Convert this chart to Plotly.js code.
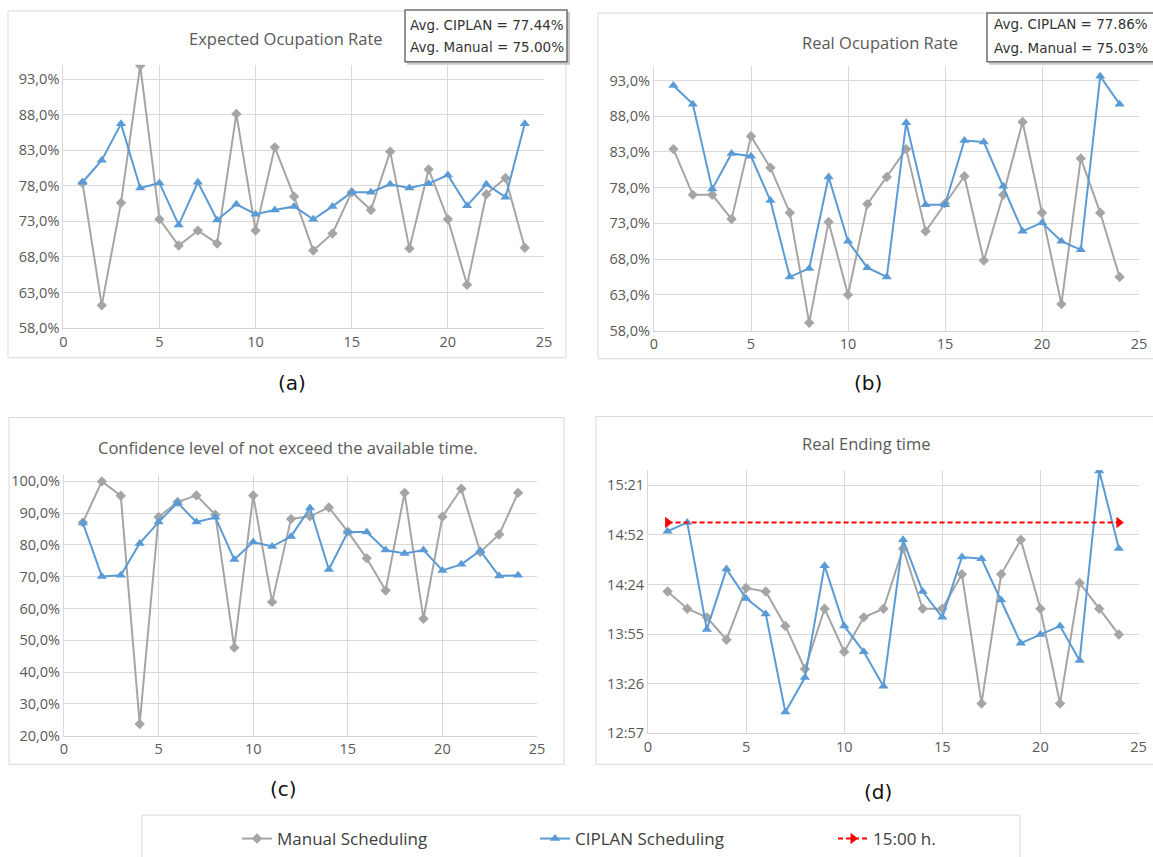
<!DOCTYPE html>
<html>
<head>
<meta charset="utf-8">
<script src="https://cdn.plot.ly/plotly-3.0.1.min.js"></script>
<style>html,body{margin:0;padding:0;background:#fff;}#chart{width:1153px;height:857px;}</style>
</head>
<body>
<div id="chart"></div>
<script>
// ---------- data ----------
const scenarios = [1,2,3,4,5,6,7,8,9,10,11,12,13,14,15,16,17,18,19,20,21,22,23,24];

const expectedManual = [78.4,61.2,75.6,94.9,73.3,69.6,71.7,69.9,88.1,71.7,83.4,76.5,68.9,71.3,77.1,74.6,82.8,69.2,80.3,73.3,64.1,76.8,79.1,69.3];
const expectedCiplan = [78.5,81.6,86.7,77.7,78.4,72.5,78.5,73.2,75.4,74.0,74.6,75.1,73.3,75.1,77.1,77.1,78.2,77.7,78.3,79.5,75.2,78.2,76.4,86.7];

const realManual = [83.4,77.0,77.0,73.6,85.2,80.8,74.5,59.1,73.2,63.0,75.7,79.5,83.4,71.9,75.8,79.6,67.8,77.0,87.2,74.5,61.7,82.1,74.5,65.5];
const realCiplan = [92.3,89.7,77.8,82.8,82.4,76.2,65.5,66.7,79.5,70.5,66.8,65.5,87.1,75.6,75.6,84.6,84.4,78.2,71.9,73.1,70.5,69.3,93.6,89.7];

const confManual = [87.1,100.0,95.5,23.7,88.8,93.5,95.6,89.5,47.7,95.6,62.1,88.2,89.0,91.8,84.2,75.8,65.7,96.4,56.8,88.9,97.7,77.8,83.3,96.4];
const confCiplan = [86.9,70.1,70.5,80.5,87.2,93.3,87.2,88.7,75.4,80.9,79.5,82.7,91.6,72.3,84.1,84.1,78.4,77.3,78.4,72.0,73.9,78.2,70.2,70.5];

const endManual = ["14:20","14:10","14:05","13:52","14:22","14:20","14:00","13:35","14:10","13:45","14:05","14:10","14:45","14:10","14:10","14:30","13:15","14:30","14:50","14:10","13:15","14:25","14:10","13:55"];
const endCiplan = ["14:55","15:00","13:58","14:33","14:16","14:07","13:10","13:30","14:35","14:00","13:45","13:25","14:50","14:20","14:05","14:40","14:39","14:15","13:50","13:55","14:00","13:40","15:30","14:45"];

const limitX = [1, 24];
const limitTime = ["15:00","15:00"];

const pctTickVals = [58,63,68,73,78,83,88,93];
const confTickVals = [20,30,40,50,60,70,80,90,100];
const timeTickVals = [777.6,806.4,835.2,864,892.8,921.6];   // minutes after midnight
const timeTickText = ["12:57","13:26","13:55","14:24","14:52","15:21"];

const titles = ["Expected Ocupation Rate","Real Ocupation Rate","Confidence level of not exceed the available time.","Real Ending time"];
const panelLabels = ["(a)","(b)","(c)","(d)"];
const avgA = ["Avg. CIPLAN = 77.44%","Avg. Manual = 75.00%"];
const avgB = ["Avg. CIPLAN = 77.86%","Avg. Manual = 75.03%"];
const seriesNames = ["Manual Scheduling","CIPLAN Scheduling","15:00 h."];

// ---------- helpers ----------
const W = 1153, H = 857;
const PX = p => p / W;
const PY = p => 1 - p / H;
const toMin = s => { const [h,m] = s.split(':').map(Number); return h*60 + m; };
const pctLabel = v => v.toFixed(1).replace('.', ',') + '%';

const GRAY = '#a5a5a5', BLUE = '#5b9bd5', RED = '#ff0000';
const FONT = 'Open Sans, sans-serif';

function manualTrace(y, xa, ya, show) {
  return {x: scenarios, y: y, xaxis: xa, yaxis: ya, type: 'scatter', mode: 'lines+markers',
    name: seriesNames[0], showlegend: show, legendrank: 1,
    line: {color: GRAY, width: 2}, marker: {symbol: 'diamond', size: 8, color: GRAY}};
}
function ciplanTrace(y, xa, ya, show) {
  return {x: scenarios, y: y, xaxis: xa, yaxis: ya, type: 'scatter', mode: 'lines+markers',
    name: seriesNames[1], showlegend: show, legendrank: 2,
    line: {color: BLUE, width: 2}, marker: {symbol: 'triangle-up', size: 9, color: BLUE}};
}

const data = [
  manualTrace(expectedManual, 'x', 'y', true),
  ciplanTrace(expectedCiplan, 'x', 'y', true),
  manualTrace(realManual, 'x2', 'y2', false),
  ciplanTrace(realCiplan, 'x2', 'y2', false),
  manualTrace(confManual, 'x3', 'y3', false),
  ciplanTrace(confCiplan, 'x3', 'y3', false),
  manualTrace(endManual.map(toMin), 'x4', 'y4', false),
  ciplanTrace(endCiplan.map(toMin), 'x4', 'y4', false),
  {x: limitX, y: limitTime.map(toMin), xaxis: 'x4', yaxis: 'y4', type: 'scatter', mode: 'lines+markers',
   name: seriesNames[2], showlegend: true, legendrank: 3,
   line: {color: RED, width: 2, dash: '5px,3px'}, marker: {symbol: 'triangle-right', size: 10, color: RED}}
];

const tickFont = {family: FONT, size: 14.5, color: '#595959'};
function xAxis(l, r, anchor) {
  return {domain: [PX(l), PX(r)], anchor: anchor, range: [0, 25], tick0: 0, dtick: 5,
    showgrid: true, gridcolor: '#d9d9d9', gridwidth: 1, zeroline: false,
    showline: true, linecolor: '#d0d0d0', linewidth: 1, ticks: '', tickfont: tickFont, fixedrange: true};
}
function yAxis(top, bottom, anchor, range, vals, text) {
  return {domain: [PY(bottom), PY(top)], anchor: anchor, range: range,
    tickmode: 'array', tickvals: vals, ticktext: text || vals.map(pctLabel),
    showgrid: true, gridcolor: '#d9d9d9', gridwidth: 1, zeroline: false,
    showline: true, linecolor: '#d9d9d9', linewidth: 1, ticks: '', tickfont: tickFont, fixedrange: true};
}

const boxLine = {color: '#d9d9d9', width: 1};
const shapes = [
  {type: 'rect', xref: 'paper', yref: 'paper', x0: PX(8), x1: PX(566), y0: PY(359), y1: PY(11), line: boxLine, layer: 'below'},
  {type: 'rect', xref: 'paper', yref: 'paper', x0: PX(598), x1: PX(1170), y0: PY(360), y1: PY(13), line: boxLine, layer: 'below'},
  {type: 'rect', xref: 'paper', yref: 'paper', x0: PX(9), x1: PX(564), y0: PY(767), y1: PY(419), line: boxLine, layer: 'below'},
  {type: 'rect', xref: 'paper', yref: 'paper', x0: PX(596), x1: PX(1170), y0: PY(767), y1: PY(418), line: boxLine, layer: 'below'},
  {type: 'rect', xref: 'paper', yref: 'paper', x0: PX(142), x1: PX(1020), y0: PY(880), y1: PY(818), line: boxLine, layer: 'below'},
  // average boxes (shadow + box)
  {type: 'rect', xref: 'paper', yref: 'paper', x0: PX(407), x1: PX(570), y0: PY(65), y1: PY(12), line: {width: 0}, fillcolor: '#c8c8c8'},
  {type: 'rect', xref: 'paper', yref: 'paper', x0: PX(405), x1: PX(567), y0: PY(62), y1: PY(10), line: {color: '#6f6f6f', width: 1.5}, fillcolor: '#ffffff'},
  {type: 'rect', xref: 'paper', yref: 'paper', x0: PX(989), x1: PX(1175), y0: PY(65), y1: PY(15), line: {width: 0}, fillcolor: '#c8c8c8'},
  {type: 'rect', xref: 'paper', yref: 'paper', x0: PX(987), x1: PX(1170), y0: PY(62), y1: PY(13), line: {color: '#6f6f6f', width: 1.5}, fillcolor: '#ffffff'}
];

function txt(t, x, y, size, color, family, xanchor) {
  return {text: t, xref: 'paper', yref: 'paper', x: PX(x), y: PY(y), showarrow: false,
    xanchor: xanchor || 'center', yanchor: 'middle', font: {family: family || FONT, size: size, color: color}};
}
const annotations = [
  txt(titles[0], 286, 39, 16.5, '#595959'),
  txt(titles[1], 880, 43, 16.5, '#595959'),
  txt(titles[2], 288, 449, 16.5, '#595959'),
  txt(titles[3], 866, 445, 16.5, '#595959'),
  txt(panelLabels[0], 292, 384, 20, '#111', 'DejaVu Sans'),
  txt(panelLabels[1], 868, 384, 20, '#111', 'DejaVu Sans'),
  txt(panelLabels[2], 283, 792, 20, '#111', 'DejaVu Sans'),
  txt(panelLabels[3], 878, 795, 20, '#111', 'DejaVu Sans'),
  txt(avgA[0], 408, 25, 13.5, '#333', 'DejaVu Sans', 'left'),
  txt(avgA[1], 408, 47, 13.5, '#333', 'DejaVu Sans', 'left'),
  txt(avgB[0], 992, 24, 13.5, '#333', 'DejaVu Sans', 'left'),
  txt(avgB[1], 992, 48, 13.5, '#333', 'DejaVu Sans', 'left')
];

const layout = {
  width: W, height: H, margin: {l: 0, r: 0, t: 0, b: 0},
  paper_bgcolor: '#ffffff', plot_bgcolor: 'rgba(0,0,0,0)',
  showlegend: true,
  legend: {orientation: 'h', x: PX(237), xanchor: 'left', y: PY(842), yanchor: 'middle',
    font: {family: FONT, size: 17, color: '#404040'}, entrywidth: 253, entrywidthmode: 'pixels',
    bgcolor: 'rgba(0,0,0,0)', traceorder: 'normal'},
  xaxis: xAxis(63.3, 544, 'y'),
  yaxis: yAxis(65, 329.3, 'x', [58, 95], pctTickVals),
  xaxis2: xAxis(654, 1139, 'y2'),
  yaxis2: yAxis(66.5, 331.7, 'x2', [58, 95], pctTickVals),
  xaxis3: xAxis(64, 537, 'y3'),
  yaxis3: yAxis(476.7, 738.3, 'x3', [20, 102], confTickVals),
  xaxis4: xAxis(648, 1138.5, 'y4'),
  yaxis4: yAxis(471.7, 736, 'x4', [777.6, 930.5], timeTickVals, timeTickText),
  shapes: shapes,
  annotations: annotations,
  hovermode: false
};

Plotly.newPlot('chart', data, layout, {staticPlot: true, displayModeBar: false});
</script>
</body>
</html>
